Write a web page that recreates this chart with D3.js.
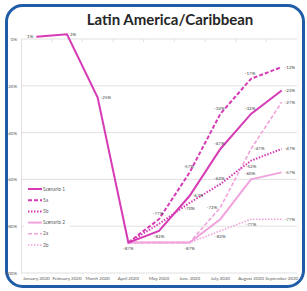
<!DOCTYPE html>
<html>
<head>
<meta charset="utf-8">
<script src="https://cdn.jsdelivr.net/npm/d3@7"></script>
<style>
  body { margin: 0; background: #fff; }
  text { font-family: Lato, "Open Sans", sans-serif; }
</style>
</head>
<body>
<svg width="307" height="291"></svg>
<script>
var svg = d3.select('svg');

// data
var months = ['January 2020', 'February 2020', 'March 2020', 'April 2020', 'May 2020',
              'June 2020', 'July 2020', 'August 2020', 'September 2020'];
var yTicks = [0, -20, -40, -60, -80, -100];
var seriesNames = ['Scenario 1', '5a', '5b', 'Scenario 2', '2a', '2b'];
var scenario1 = [1, 2, -25, -87, -82, -67, -47, -32, -22];
var s5a = [null, null, null, -87, -77, -57, -32, -17, -12];
var s5b = [null, null, null, -87, -79, -70, -62, -52, -47];
var scenario2 = [null, null, null, -87, -87, -87, -77, -60, -57];
var s2a = [null, null, null, -87, -87, -87, -72, -47, -27];
var s2b = [null, null, null, -87, -87, -87, -82, -77, -77];

// label placement per point (r/l/a/b, null = no label)
var lab1 = ['l', 'r', 'r', 'b', 'b', 'r', 'a', 'a', 'r'];
var lab5a = [null, null, null, null, 'a', 'a', 'a', 'a', 'r'];
var lab5b = [null, null, null, null, null, 'b', 'a', 'b', 'r'];
var lab2 = [null, null, null, null, null, 'b', null, 'a', 'r'];
var lab2a = [null, null, null, null, null, null, 'l', 'r', 'r'];
var lab2b = [null, null, null, null, null, null, 'b', 'b', 'r'];

var dark = '#d63bb5';
var light = '#f0a3dc';
var series = [
    { name: seriesNames[0], values: scenario1, labels: lab1, color: dark, dash: null, w: 2 },
    { name: seriesNames[1], values: s5a, labels: lab5a, color: dark, dash: '4,2', w: 2 },
    { name: seriesNames[2], values: s5b, labels: lab5b, color: dark, dash: '1.5,1.5', w: 2 },
    { name: seriesNames[3], values: scenario2, labels: lab2, color: light, dash: null, w: 2 },
    { name: seriesNames[4], values: s2a, labels: lab2a, color: light, dash: '4,2', w: 1.6 },
    { name: seriesNames[5], values: s2b, labels: lab2b, color: light, dash: '1.5,1.5', w: 1.6 }
];

// frame
svg.append('rect')
    .attr('x', 6.5).attr('y', 5.5)
    .attr('width', 297).attr('height', 281)
    .attr('rx', 16).attr('ry', 16)
    .attr('fill', '#fff')
    .attr('stroke', '#1f5ca8')
    .attr('stroke-width', 3);

svg.append('text')
    .attr('x', 170).attr('y', 25)
    .attr('text-anchor', 'middle')
    .style('font-size', '15px')
    .style('font-weight', 'bold')
    .style('fill', '#262626')
    .text('Latin America/Caribbean');

var x = d3.scaleBand().domain(months).range([21, 297]);
var y = d3.scaleLinear().domain([-100, 0]).range([273, 39]);

// gridlines
svg.append('g')
    .selectAll('line')
    .data(yTicks)
    .enter()
    .append('line')
    .attr('x1', 21).attr('x2', 297)
    .attr('y1', function (d) { return y(d); })
    .attr('y2', function (d) { return y(d); })
    .attr('stroke', '#d9d9d9')
    .attr('stroke-width', 0.8);

// y axis
var yAxis = svg.append('g')
    .attr('transform', 'translate(21,0)')
    .call(d3.axisLeft(y).tickValues(yTicks).tickSize(0).tickPadding(4)
        .tickFormat(function (d) { return d + '%'; }));
yAxis.select('.domain').attr('stroke', '#d9d9d9').attr('stroke-width', 0.8);
yAxis.selectAll('text').style('font-size', '4.5px').style('fill', '#595959');

// category ticks along the 0% line
svg.append('g')
    .selectAll('line')
    .data(months.slice(1))
    .enter()
    .append('line')
    .attr('x1', function (d) { return x(d); })
    .attr('x2', function (d) { return x(d); })
    .attr('y1', y(0)).attr('y2', y(0) + 3)
    .attr('stroke', '#d9d9d9')
    .attr('stroke-width', 0.8);

// x labels at the bottom
svg.append('g')
    .selectAll('text')
    .data(months)
    .enter()
    .append('text')
    .attr('x', function (d) { return x(d) + x.bandwidth() / 2; })
    .attr('y', 280)
    .attr('text-anchor', 'middle')
    .style('font-size', '4.5px')
    .style('fill', '#595959')
    .text(function (d) { return d; });

var line = d3.line()
    .defined(function (d) { return d != null; })
    .x(function (d, i) { return x(months[i]) + x.bandwidth() / 2; })
    .y(function (d) { return y(d); });

// draw lighter series first
series.slice().reverse().forEach(function (s) {
    svg.append('path')
        .datum(s.values)
        .attr('d', line)
        .attr('fill', 'none')
        .attr('stroke', s.color)
        .attr('stroke-width', s.w)
        .attr('stroke-dasharray', s.dash);
});

// data labels
var offsets = { r: [3, 1.5, 'start'], l: [-3, 1.5, 'end'], a: [-1, -4, 'middle'], b: [0, 7, 'middle'] };
series.forEach(function (s) {
    s.values.forEach(function (v, i) {
        var p = s.labels[i];
        if (v == null || !p) return;
        svg.append('text')
            .attr('x', x(months[i]) + x.bandwidth() / 2 + offsets[p][0])
            .attr('y', y(v) + offsets[p][1])
            .attr('text-anchor', offsets[p][2])
            .style('font-size', '4.5px')
            .style('fill', '#404040')
            .text(v + '%');
    });
});

// legend
var legend = svg.append('g').attr('transform', 'translate(24,184)');
legend.append('rect')
    .attr('x', 0).attr('y', 0)
    .attr('width', 46).attr('height', 66)
    .attr('fill', '#fff');
var item = legend.selectAll('g.item')
    .data(series)
    .enter()
    .append('g')
    .attr('class', 'item')
    .attr('transform', function (d, i) { return 'translate(4,' + (5 + i * 11.2) + ')'; });
item.append('line')
    .attr('x1', 0).attr('x2', 14)
    .attr('y1', 0).attr('y2', 0)
    .attr('stroke', function (d) { return d.color; })
    .attr('stroke-width', function (d) { return d.w; })
    .attr('stroke-dasharray', function (d) { return d.dash; });
item.append('text')
    .attr('x', 15).attr('y', 1.6)
    .style('font-size', '4.8px')
    .style('fill', '#595959')
    .text(function (d) { return d.name; });
</script>
</body>
</html>
